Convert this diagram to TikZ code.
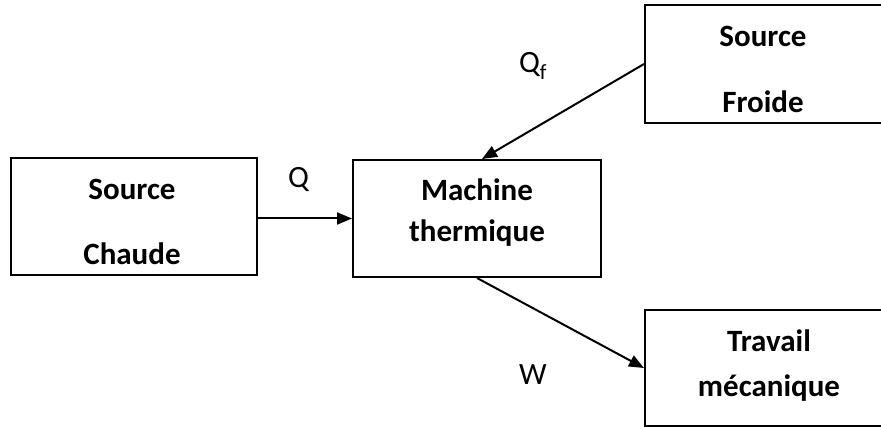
\documentclass[tikz,border=0pt]{standalone}
\usepackage{fontspec}
\setmainfont{Carlito}
\usetikzlibrary{arrows.meta,calc}

\begin{document}
\begin{tikzpicture}[x=1pt, y=-1pt, >={Triangle[length=15pt,width=12pt]}, line width=2pt]
        \tikzset{
          blk/.style={draw, rectangle, inner sep=0pt},
          txt/.style={anchor=base, inner sep=0pt, font=\fontsize{31}{37}\selectfont\bfseries},
          lbl/.style={anchor=base west, inner sep=0pt, font=\fontsize{31}{37}\selectfont}
        }
        \useasboundingbox (0,0) rectangle (881,427);
        \clip (0,0) rectangle (881,427);
        %% --- blocs ---
        \node[blk, minimum width=246pt, minimum height=117pt] (chaude)  at (134,216.5) {};
        \node[blk, minimum width=248pt, minimum height=117pt] (machine) at (477,218.5) {};
        \node[blk, minimum width=237pt, minimum height=118pt] (froide)  at (763.5,64) {};
        \node[blk, minimum width=248pt, minimum height=116pt] (travail) at (769,368) {};
        %% --- textes ---
        \node[txt] (tC1) at (132,200) {Source};
        \node[txt] (tC2) at (132,265) {Chaude};
        \node[txt] (tM1) at (477,201) {Machine};
        \node[txt] (tM2) at (477,242) {thermique};
        \node[txt] (tF1) at (763,47)  {Source};
        \node[txt] (tF2) at (763,113) {Froide};
        \node[txt] (tT1) at (769,352) {Travail};
        \node[txt] (tT2) at (769,397) {mécanique};
        %% --- flux ---
        \node[lbl] (Q)  at (287,188) {Q};
        \node[lbl] (Qf) at (518,73)  {Q\textsubscript{f}};
        \node[lbl] (W)  at (518,385) {W};
        \draw[->] (machine.west -| chaude.east) -- (machine.west);
        \draw[->] (froide.west) -- ([xshift=5pt]machine.north);
        \draw[->] (machine.south) -- (travail.west);
    \end{tikzpicture}
\end{document}
